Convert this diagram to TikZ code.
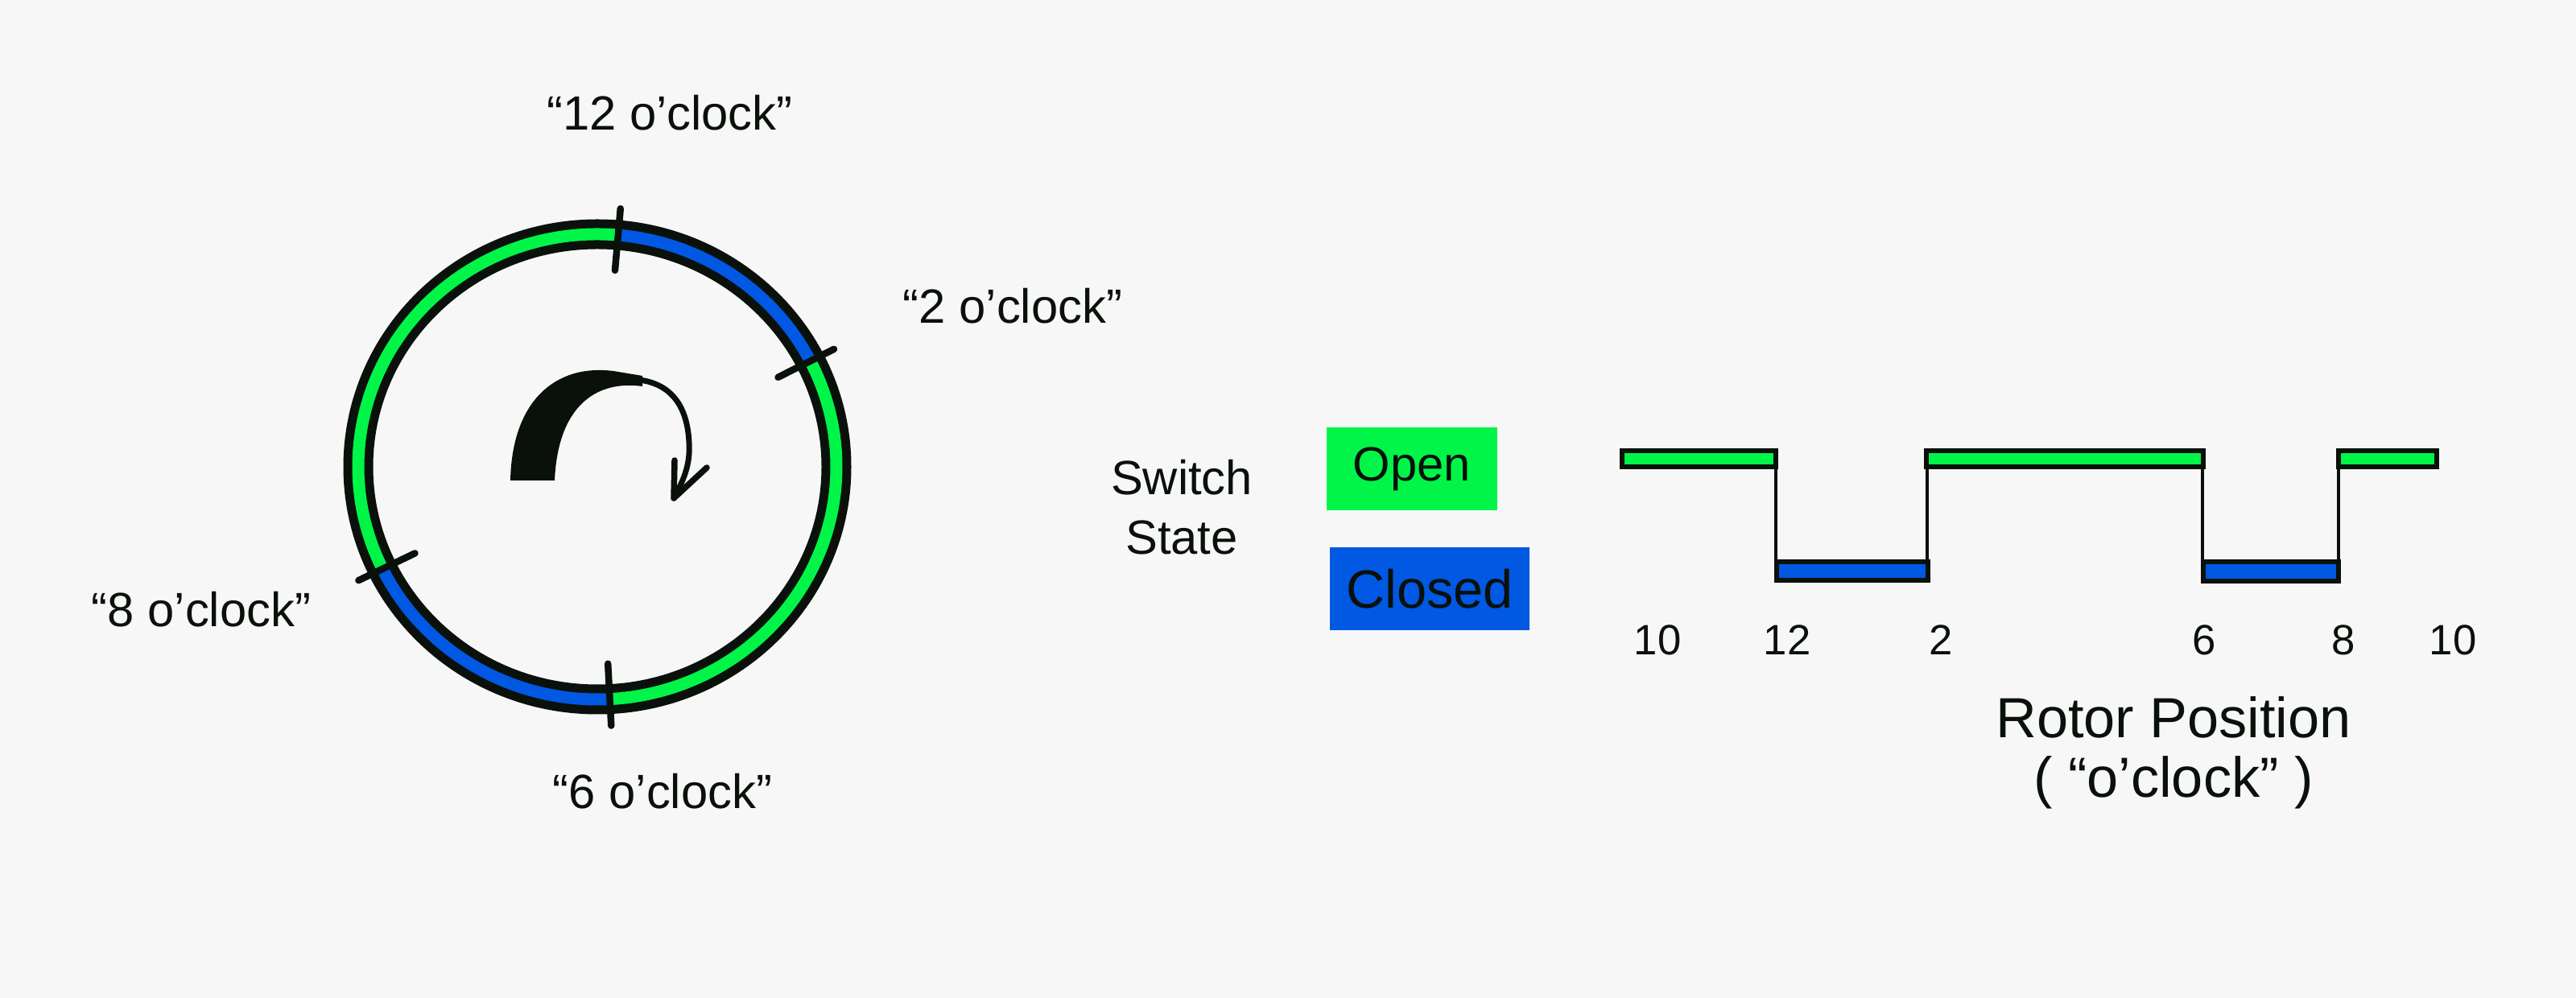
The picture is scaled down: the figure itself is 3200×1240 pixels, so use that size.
\documentclass[tikz,border=0pt]{standalone}
\usepackage{fontspec}
\setmainfont{Liberation Sans}
\usetikzlibrary{calc}
\definecolor{bg}{HTML}{F7F7F7}
\definecolor{ink}{HTML}{0A100A}
\definecolor{opengreen}{HTML}{00F548}
\definecolor{closedblue}{HTML}{0058E3}
\begin{document}
\begin{tikzpicture}[x=0.1mm,y=0.1mm,
  clk/.style={text=ink, font=\fontsize{17}{20}\selectfont, inner sep=0pt},
  axlbl/.style={text=ink, font=\fontsize{15}{18}\selectfont, inner sep=0pt},
  ringtick/.style={draw=ink, line width=0.85mm, line cap=round},
  ringband/.style={line width=1.5mm},
  hibar/.style={draw=ink, line width=0.6mm, fill=opengreen},
  lobar/.style={draw=ink, line width=0.6mm, fill=closedblue},
  riser/.style={draw=ink, line width=0.45mm},
  legendbox/.style={inner sep=0pt, minimum height=10.3mm, text=ink}]
\fill[bg] (0,0) rectangle (3200,1240);
\useasboundingbox (0,0) rectangle (3200,1240);

% ---- ring ----
\coordinate (c) at (742,660);
\draw[ink, line width=3.7mm] (c) ellipse [x radius=297, y radius=289];
\draw[closedblue, ringband] ($(c)+(27:297 and 289)$) arc[start angle=27, end angle=85, x radius=297, y radius=289];
\draw[opengreen, ringband] ($(c)+(85:297 and 289)$) arc[start angle=85, end angle=206, x radius=297, y radius=289];
\draw[closedblue, ringband] ($(c)+(206:297 and 289)$) arc[start angle=206, end angle=273, x radius=297, y radius=289];
\draw[opengreen, ringband] ($(c)+(273:297 and 289)$) arc[start angle=273, end angle=387, x radius=297, y radius=289];

\foreach \a in {85,27,206,273}{
  \draw[ringtick] ($(c)+(\a:330 and 322)$) -- ($(c)+(\a:252 and 245)$);
}

% ---- rotation arrow ----
\fill[ink] (634,643) .. controls (636,742) and (690,788) .. (762,779) -- (798,773) -- (798,760)
  .. controls (740,768) and (693,735) .. (689,643) -- cycle;
\draw[ink, line width=0.7mm, line cap=round] (794,768) .. controls (834,763) and (854,735) .. (856,690)
  .. controls (858,660) and (847,640) .. (837,621);
\draw[ink, line width=0.75mm, line cap=round, line join=round] (838,668) -- (837,621) -- (878,659);

% ---- clock labels ----
\node[clk] (l12) at (832,1100) {“12 o’clock”};
\node[clk] (l2)  at (1258,860) {“2 o’clock”};
\node[clk] (l8)  at (250,483)  {“8 o’clock”};
\node[clk] (l6)  at (823,257)  {“6 o’clock”};

% ---- legend ----
\node[text=ink, align=center, font=\fontsize{17}{21}\selectfont, inner sep=0pt] (sw) at (1468,610) {Switch\\State};
\node[legendbox, fill=opengreen, minimum width=21.2mm, font=\fontsize{17}{20}\selectfont] (open) at (1754,657) {Open};
\node[legendbox, fill=closedblue, minimum width=24.8mm, font=\fontsize{19}{22}\selectfont] (closed) at (1776,508) {Closed};

% ---- waveform ----
\draw[riser] (2206,670) -- (2206,530);
\draw[riser] (2394,530) -- (2394,670);
\draw[riser] (2736,670) -- (2736,530);
\draw[riser] (2905,530) -- (2905,670);
\filldraw[hibar] (2015,660) rectangle (2206,680);
\filldraw[lobar] (2207,519) rectangle (2395,542);
\filldraw[hibar] (2393,660) rectangle (2737,680);
\filldraw[lobar] (2737,518) rectangle (2905,542);
\filldraw[hibar] (2905,660) rectangle (3027,680);

% ---- axis labels ----
\node[axlbl] (t10a) at (2059,445) {10};
\node[axlbl] (t12)  at (2220,445) {12};
\node[axlbl] (t2)   at (2411,445) {2};
\node[axlbl] (t6)   at (2738,445) {6};
\node[axlbl] (t8)   at (2911,445) {8};
\node[axlbl] (t10b) at (3047,445) {10};

\node[text=ink, align=center, font=\fontsize{20}{21}\selectfont, inner sep=0pt] (rotor) at (2700,305) {Rotor Position\\( “o’clock” )};
\end{tikzpicture}
\end{document}
